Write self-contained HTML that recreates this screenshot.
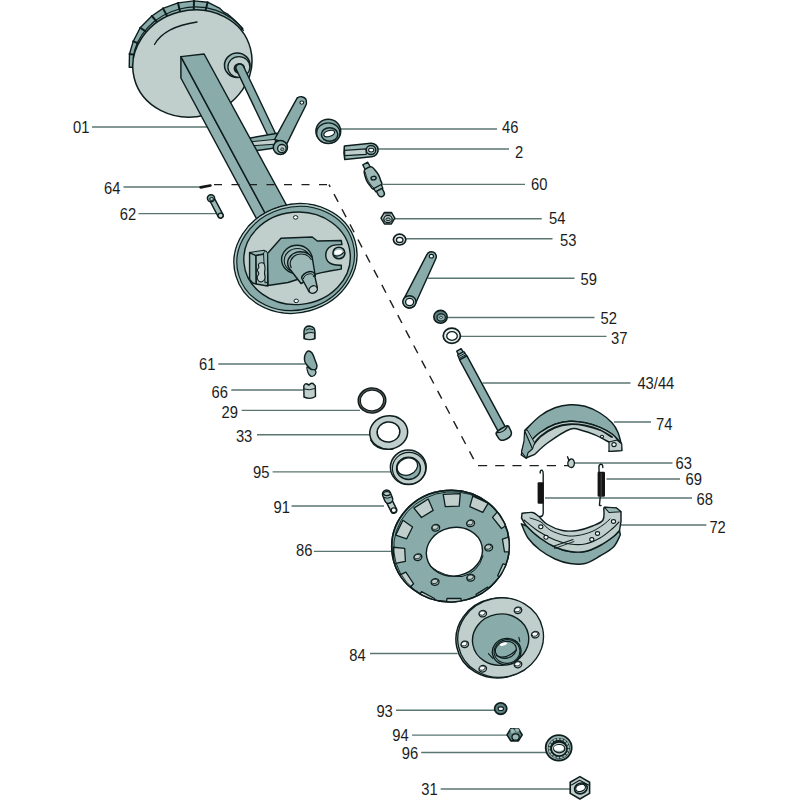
<!DOCTYPE html>
<html><head><meta charset="utf-8"><style>
html,body{margin:0;padding:0;background:#fff;}
svg{display:block;}
</style></head><body>
<svg width="800" height="800" viewBox="0 0 800 800">
<rect width="800" height="800" fill="#fff"/>
<g stroke="#5a7671" stroke-width="1.35" fill="none">
<line x1="92" y1="127" x2="207" y2="127"/>
<line x1="123.5" y1="187" x2="200" y2="187"/>
<line x1="138.5" y1="213.6" x2="216" y2="213.6"/>
<line x1="218.3" y1="364" x2="305" y2="364"/>
<line x1="231.3" y1="390" x2="303.5" y2="390"/>
<line x1="241.7" y1="410.3" x2="360" y2="410.3"/>
<line x1="257" y1="434.7" x2="370" y2="434.7"/>
<line x1="272.6" y1="471.8" x2="390.6" y2="471.8"/>
<line x1="291.5" y1="506" x2="384" y2="506"/>
<line x1="313.8" y1="551.4" x2="391" y2="551.4"/>
<line x1="370" y1="653.5" x2="457.6" y2="653.5"/>
<line x1="396" y1="710.2" x2="495.3" y2="710.2"/>
<line x1="412" y1="735.1" x2="507.4" y2="735.1"/>
<line x1="421.2" y1="752.5" x2="548" y2="752.5"/>
<line x1="440.7" y1="789" x2="570.7" y2="789"/>
<line x1="341" y1="129" x2="497" y2="129"/>
<line x1="378.75" y1="149" x2="509" y2="149"/>
<line x1="382.5" y1="184.4" x2="525" y2="184.4"/>
<line x1="394.75" y1="218.75" x2="541.75" y2="218.75"/>
<line x1="406" y1="238.75" x2="552.5" y2="238.75"/>
<line x1="427.5" y1="278.25" x2="574.5" y2="278.25"/>
<line x1="446.25" y1="317.5" x2="594.5" y2="317.5"/>
<line x1="460.5" y1="336.4" x2="606.5" y2="336.4"/>
<line x1="482.5" y1="383" x2="630.5" y2="383"/>
<line x1="614" y1="422" x2="651" y2="422"/>
<line x1="573.5" y1="463" x2="672.5" y2="463"/>
<line x1="606.5" y1="479" x2="680" y2="479"/>
<line x1="545" y1="498" x2="692" y2="498"/>
<line x1="620" y1="525" x2="706.4" y2="525"/>
</g>
<path d="M132.90,67.30 L129.20,67.30 L129.50,54.00 L133.20,41.40 L140.20,27.70 L151.80,16.00 L163.00,8.40 L178.00,2.90 L194.00,0.90 L207.60,2.20 L219.40,8.10 L223.80,12.20 L228.10,14.40 L235.00,20.60 L242.80,28.60 L192.00,63.00 Z" fill="#89abaa" stroke="#0e1e1e" stroke-width="1.4" stroke-linejoin="round" />
<path d="M129.50,54.00 L134.26,54.72" fill="none" stroke="#0e1e1e" stroke-width="2.0" stroke-linecap="round" stroke-linejoin="round"/>
<path d="M133.20,41.40 L138.52,43.39" fill="none" stroke="#0e1e1e" stroke-width="2.0" stroke-linecap="round" stroke-linejoin="round"/>
<path d="M140.20,27.70 L146.34,31.91" fill="none" stroke="#0e1e1e" stroke-width="2.0" stroke-linecap="round" stroke-linejoin="round"/>
<path d="M151.80,16.00 L157.10,22.20" fill="none" stroke="#0e1e1e" stroke-width="2.0" stroke-linecap="round" stroke-linejoin="round"/>
<path d="M163.00,8.40 L167.21,16.30" fill="none" stroke="#0e1e1e" stroke-width="2.0" stroke-linecap="round" stroke-linejoin="round"/>
<path d="M178.00,2.90 L180.10,11.77" fill="none" stroke="#0e1e1e" stroke-width="2.0" stroke-linecap="round" stroke-linejoin="round"/>
<path d="M194.00,0.90 L193.76,9.93" fill="none" stroke="#0e1e1e" stroke-width="2.0" stroke-linecap="round" stroke-linejoin="round"/>
<path d="M207.60,2.20 L205.51,10.62" fill="none" stroke="#0e1e1e" stroke-width="2.0" stroke-linecap="round" stroke-linejoin="round"/>
<path d="M133.9,60 A59.96,53.12 -14.3 0 1 244.5,32.5" fill="none" stroke="#0e1e1e" stroke-width="1.2" transform="translate(-0.8,-1.7)"/>
<ellipse cx="192.36" cy="63.46" rx="59.96" ry="53.12" fill="#c0cfcb" stroke="#0e1e1e" stroke-width="1.5" transform="rotate(-14.3 192.36 63.46)" />
<path d="M154.5,44.5 Q164.3,26.8 197,22" fill="none" stroke="#0e1e1e" stroke-width="1.3" stroke-linecap="round" stroke-linejoin="round"/>
<ellipse cx="237.25" cy="65.25" rx="12.75" ry="12.25" fill="#9db9b7" stroke="#0e1e1e" stroke-width="1.5" />
<ellipse cx="238.90" cy="67.00" rx="11.0" ry="10.4" fill="#c0cfcb" stroke="#0e1e1e" stroke-width="1.3" />
<ellipse cx="239.40" cy="68.40" rx="5.8" ry="5.5" fill="#142222" stroke="#0e1e1e" stroke-width="0" />
<path d="M236.38,69.58 A3.9,3.9 0 0 1 243.42,66.22 L278.02,138.82 L270.98,142.18 Z" fill="#89abaa" stroke="#0e1e1e" stroke-width="1.4" stroke-linejoin="round" />
<path d="M249.00,138.20 L277.50,133.30 L275.00,148.00 L255.50,150.80 Z" fill="#89abaa" stroke="#0e1e1e" stroke-width="1.45" stroke-linejoin="round" />
<path d="M251.50,141.70 L275.50,139.30 L275.00,144.20 L253.00,145.70 Z" fill="#c0cfcb" stroke="#0e1e1e" stroke-width="1.0" stroke-linejoin="round" />
<path d="M274.50,139.50 C276.25,136.25 281.42,126.55 285.00,120.00 C288.58,113.45 293.87,103.93 296.00,100.20 C298.13,96.47 296.87,98.18 297.80,97.60 C298.73,97.02 300.30,96.50 301.60,96.70 C302.90,96.90 304.80,97.82 305.60,98.80 C306.40,99.78 306.40,101.43 306.40,102.60 C306.40,103.77 307.25,102.23 305.60,105.80 C303.95,109.37 299.60,117.72 296.50,124.00 C293.40,130.28 288.58,140.25 287.00,143.50 Z" fill="#89abaa" stroke="#0e1e1e" stroke-width="1.45" stroke-linejoin="round" />
<ellipse cx="301.80" cy="102.60" rx="1.9" ry="1.6" fill="#ffffff" stroke="#0e1e1e" stroke-width="1.1" />
<ellipse cx="280.40" cy="147.40" rx="7.1" ry="7.0" fill="#89abaa" stroke="#0e1e1e" stroke-width="1.5" />
<ellipse cx="281.90" cy="148.60" rx="4.3" ry="4.1" fill="#c0cfcb" stroke="#0e1e1e" stroke-width="1.3" />
<ellipse cx="282.30" cy="149.30" rx="1.6" ry="1.5" fill="#89abaa" stroke="#0e1e1e" stroke-width="0.8" />
<path d="M180.90,56.60 L180.90,78.00 L268.00,240.00 L279.50,240.00 Z" fill="#8fb0af" stroke="#0e1e1e" stroke-width="1.45" stroke-linejoin="round" />
<path d="M180.90,56.60 L204.10,54.00 L305.50,240.00 L279.50,240.00 Z" fill="#89abaa" stroke="#0e1e1e" stroke-width="1.45" stroke-linejoin="round" />
<path d="M214,184.6 L329,184.6" fill="none" stroke="#1e1e1e" stroke-width="1.4" stroke-dasharray="8 9.5"/>
<path d="M329,184.6 L477,465.6" fill="none" stroke="#1e1e1e" stroke-width="1.4" stroke-dasharray="8.8 8.3" stroke-dashoffset="6.3"/>
<path d="M478,465.6 L570,465.6" fill="none" stroke="#1e1e1e" stroke-width="1.4" stroke-dasharray="9.2 8"/>
<ellipse cx="295.47" cy="258.48" rx="62.0" ry="54.1" fill="#89abaa" stroke="#0e1e1e" stroke-width="1.5" transform="rotate(-16 295.47 258.48)" />
<ellipse cx="295.47" cy="258.48" rx="60.7" ry="52.800000000000004" fill="none" stroke="#b3cac8" stroke-width="1.2" transform="rotate(-16 295.47 258.48)"/>
<ellipse cx="295.67" cy="258.48" rx="59.3" ry="51.4" fill="none" stroke="#0e1e1e" stroke-width="1.1" transform="rotate(-16 295.67 258.48)" />
<ellipse cx="297.07" cy="258.32" rx="53.3" ry="46.2" fill="#c0cfcb" stroke="#0e1e1e" stroke-width="1.4" transform="rotate(-5 297.07 258.32)" />
<ellipse cx="295.60" cy="217.40" rx="2.2" ry="1.8" fill="#ffffff" stroke="#0e1e1e" stroke-width="1.0" />
<ellipse cx="296.20" cy="300.90" rx="2.2" ry="1.8" fill="#ffffff" stroke="#0e1e1e" stroke-width="1.0" />
<path d="M267.50,253.50 L281.00,238.20 L312.25,237.00 L317.30,241.00 L341.30,240.50 L341.90,244.60 C340.92,244.65 337.80,244.63 336.00,244.90 C334.20,245.17 332.57,245.42 331.10,246.20 C329.63,246.98 328.08,248.22 327.20,249.60 C326.32,250.98 325.90,252.90 325.80,254.50 C325.70,256.10 325.97,257.80 326.60,259.20 C327.23,260.60 328.28,261.97 329.60,262.90 C330.92,263.83 332.55,264.40 334.50,264.80 C336.45,265.20 340.17,265.22 341.30,265.30 L341.30,269.10 L331.10,270.70 L320.40,272.90 L303.50,277.50 L288.00,282.50 L268.00,285.50 Z" fill="#89abaa" stroke="#0e1e1e" stroke-width="1.45" stroke-linejoin="round" />
<ellipse cx="338.90" cy="253.00" rx="6.0" ry="5.8" fill="#9db9b7" stroke="#0e1e1e" stroke-width="1.5" />
<ellipse cx="338.30" cy="252.20" rx="4.0" ry="2.3" fill="#ffffff" stroke="#0e1e1e" stroke-width="0" transform="rotate(-15 338.3 252.2)" />
<path d="M334.2,255.6 Q339,257.5 343.6,252.6" fill="none" stroke="#0e1e1e" stroke-width="1.1" stroke-linecap="round" stroke-linejoin="round"/>
<path d="M249.60,252.50 L256.00,255.50 L256.30,284.00 L252.80,283.00 L249.60,279.50 Z" fill="#9db9b7" stroke="#0e1e1e" stroke-width="1.45" stroke-linejoin="round" />
<path d="M249.60,252.50 L264.00,250.20 L267.00,253.50 L256.00,255.50 Z" fill="#9db9b7" stroke="#0e1e1e" stroke-width="1.1" stroke-linejoin="round" />
<path d="M256.00,255.50 L267.00,253.50 L267.60,286.00 L256.30,284.00 Z" fill="#a6bfbd" stroke="#0e1e1e" stroke-width="1.45" stroke-linejoin="round" />
<path d="M263.50,252.80 L266.00,250.60 L267.50,253.50 L267.60,282.00 L265.00,283.00 Z" fill="#9db9b7" stroke="#0e1e1e" stroke-width="1.0" stroke-linejoin="round" />
<path d="M258.50,264.30 C258.95,263.52 260.55,262.85 261.50,262.80 C262.45,262.75 263.62,263.05 264.20,264.00 C264.78,264.95 264.95,267.00 265.00,268.50 C265.05,270.00 264.50,271.42 264.50,273.00 C264.50,274.58 265.33,276.58 265.00,278.00 C264.67,279.42 263.58,281.03 262.50,281.50 C261.42,281.97 259.38,281.55 258.50,280.80 C257.62,280.05 257.15,278.22 257.20,277.00 C257.25,275.78 258.78,274.67 258.80,273.50 C258.82,272.33 257.30,271.00 257.30,270.00 C257.30,269.00 258.60,268.45 258.80,267.50 C259.00,266.55 258.05,265.08 258.50,264.30 Z" fill="#c0cfcb" stroke="#0e1e1e" stroke-width="1.1" stroke-linejoin="round" />
<ellipse cx="297.00" cy="259.50" rx="15.4" ry="14.2" fill="#9db9b7" stroke="#0e1e1e" stroke-width="1.4" />
<ellipse cx="297.50" cy="260.50" rx="13.3" ry="12.0" fill="#9db9b7" stroke="#0e1e1e" stroke-width="1.1" />
<path d="M289,268 A11.7,10.2 0 0 1 312.3,258 L315.3,276 L301,283.5 Z" fill="#9db9b7" stroke="#0e1e1e" stroke-width="1.45" stroke-linejoin="round" />
<path d="M291.2,267.6 A9.8,8.6 0 0 1 311.2,259.6" fill="none" stroke="#0e1e1e" stroke-width="1.1" stroke-linecap="round" stroke-linejoin="round"/>
<path d="M301.6,278 A6.5,4.2 -28 0 1 314.6,275.4 L317.3,287.3 L309.2,292 Z" fill="#9db9b7" stroke="#0e1e1e" stroke-width="1.45" stroke-linejoin="round" />
<path d="M303.4,278.6 A5.2,3.2 -28 0 1 313.5,276.8" fill="none" stroke="#0e1e1e" stroke-width="1.0" stroke-linecap="round" stroke-linejoin="round"/>
<ellipse cx="313.20" cy="289.60" rx="4.3" ry="3.6" fill="#c0cfcb" stroke="#0e1e1e" stroke-width="1.4" transform="rotate(-30 313.2 289.6)" />
<ellipse cx="328.30" cy="131.30" rx="12.4" ry="12.1" fill="#89abaa" stroke="#0e1e1e" stroke-width="1.5" />
<ellipse cx="328.30" cy="133.10" rx="11.6" ry="10.3" fill="#93b3b1" stroke="#0e1e1e" stroke-width="1.3" />
<ellipse cx="329.60" cy="134.50" rx="8.2" ry="6.8" fill="#89abaa" stroke="#0e1e1e" stroke-width="1.5" />
<ellipse cx="329.20" cy="133.50" rx="5.6" ry="2.9" fill="#ffffff" stroke="#0e1e1e" stroke-width="1.2" transform="rotate(-18 329.2 133.5)" />
<path d="M344.4,146.0 L370.8,143.2 A6.9,6.8 0 0 1 371.6,156.8 L344.8,159.5 Q343.4,153 344.4,146.0 Z" fill="#9db9b7" stroke="#0e1e1e" stroke-width="1.6" stroke-linejoin="round" />
<path d="M344.60,150.30 L366.20,148.90 L366.20,154.30 L344.80,155.60 Z" fill="#c0cfcb" stroke="#0e1e1e" stroke-width="1.2" stroke-linejoin="round" />
<ellipse cx="371.00" cy="150.00" rx="4.8" ry="4.5" fill="#9db9b7" stroke="#0e1e1e" stroke-width="1.4" />
<ellipse cx="371.20" cy="150.10" rx="2.6" ry="1.9" fill="#ffffff" stroke="#0e1e1e" stroke-width="1.1" />
<path d="M367.74,162.24 L370.50,167.23 L365.38,169.95 L362.79,164.87 Z" fill="#9db9b7" stroke="#0e1e1e" stroke-width="1.4" stroke-linejoin="round" />
<path d="M371.03,166.72 C372.80,166.72 373.87,168.80 375.14,170.20 C376.41,171.60 377.72,173.36 378.66,175.12 C379.60,176.89 380.28,179.17 380.77,180.80 C381.26,182.42 382.78,183.50 381.59,184.89 C380.40,186.28 375.49,188.89 373.64,189.12 C371.80,189.34 371.64,187.54 370.53,186.24 C369.42,184.94 367.95,183.09 367.01,181.32 C366.07,179.55 365.32,177.50 364.90,175.65 C364.48,173.79 363.47,171.69 364.49,170.20 C365.51,168.71 369.25,166.72 371.03,166.72 Z" fill="#9db9b7" stroke="#0e1e1e" stroke-width="1.5" stroke-linejoin="round" />
<path d="M365.25,172.06 C365.47,172.89 365.98,175.45 366.54,177.04 C367.10,178.63 367.78,180.15 368.62,181.59 C369.47,183.03 370.67,184.56 371.59,185.68 C372.51,186.80 373.70,187.86 374.12,188.30" fill="none" stroke="#0e1e1e" stroke-width="0.9" stroke-linecap="round" stroke-linejoin="round"/>
<path d="M381.27,184.50 L382.88,188.17 L375.82,191.92 L373.59,188.58 Z" fill="#9db9b7" stroke="#0e1e1e" stroke-width="1.3" stroke-linejoin="round" />
<path d="M382.08,188.37 L384.05,192.08 A3.2,3.2 0 0 1 378.40,195.08 L376.43,191.37 Z" fill="#9db9b7" stroke="#0e1e1e" stroke-width="1.4" stroke-linejoin="round" />
<ellipse cx="373.59" cy="178.16" rx="2.6" ry="1.8" fill="#9db9b7" stroke="#0e1e1e" stroke-width="1.4" transform="rotate(-10 373.5938602698395 178.15730998220758)" />
<path d="M394.80,218.20 L391.35,223.94 L384.45,223.94 L381.00,218.20 L384.45,212.46 L391.35,212.46 Z" fill="#c0cfcb" stroke="#0e1e1e" stroke-width="1.5" stroke-linejoin="round" />
<path d="M384.9,213.9 L391.0,213.9" fill="none" stroke="#0e1e1e" stroke-width="0.9" stroke-linecap="round" stroke-linejoin="round"/>
<ellipse cx="388.00" cy="219.00" rx="4.2" ry="3.7" fill="#c0cfcb" stroke="#0e1e1e" stroke-width="1.3" />
<ellipse cx="388.10" cy="219.30" rx="2.2" ry="1.4" fill="#9db9b7" stroke="#0e1e1e" stroke-width="1.0" />
<ellipse cx="399.60" cy="239.60" rx="6.2" ry="5.4" fill="#e2e9e7" stroke="#0e1e1e" stroke-width="1.7" />
<ellipse cx="399.70" cy="239.90" rx="3.3" ry="2.6" fill="#ffffff" stroke="#0e1e1e" stroke-width="1.3" />
<path d="M415.06,304.56 L435.81,258.74 A4.9,4.9 0 0 0 426.99,254.46 L403.74,299.04 A6.3,6.3 0 0 0 415.06,304.56 Z" fill="#89abaa" stroke="#0e1e1e" stroke-width="1.45" stroke-linejoin="round" />
<ellipse cx="431.40" cy="256.20" rx="2.1" ry="1.8" fill="#ffffff" stroke="#0e1e1e" stroke-width="1.2" />
<ellipse cx="409.40" cy="301.80" rx="6.6" ry="6.1" fill="#9db9b7" stroke="#0e1e1e" stroke-width="1.5" />
<ellipse cx="409.60" cy="302.00" rx="4.0" ry="3.7" fill="#ffffff" stroke="#0e1e1e" stroke-width="1.3" />
<ellipse cx="440.50" cy="316.80" rx="6.7" ry="6.4" fill="#5f8180" stroke="#0e1e1e" stroke-width="1.6" />
<ellipse cx="441.20" cy="317.40" rx="4.2" ry="3.6" fill="#89abaa" stroke="#0e1e1e" stroke-width="1.2" />
<ellipse cx="441.00" cy="317.30" rx="1.6" ry="1.0" fill="#ffffff" stroke="#0e1e1e" stroke-width="0.8" />
<ellipse cx="451.80" cy="335.80" rx="8.6" ry="7.6" fill="#e9efed" stroke="#0e1e1e" stroke-width="1.7" />
<ellipse cx="452.00" cy="336.00" rx="5.3" ry="4.3" fill="#ffffff" stroke="#0e1e1e" stroke-width="1.3" />
<path d="M461.12,348.71 L463.20,352.13 L458.45,354.70 L456.72,351.09 Z" fill="#9db9b7" stroke="#0e1e1e" stroke-width="1.4" stroke-linejoin="round" />
<path d="M463.89,351.53 L466.86,356.17 L459.82,359.98 L457.56,354.95 Z" fill="#9db9b7" stroke="#0e1e1e" stroke-width="1.3" stroke-linejoin="round" />
<path d="M464.93,353.24 L458.42,356.76" fill="none" stroke="#0e1e1e" stroke-width="1.0" stroke-linecap="round" stroke-linejoin="round"/>
<path d="M465.96,354.73 L459.10,358.44" fill="none" stroke="#0e1e1e" stroke-width="1.0" stroke-linecap="round" stroke-linejoin="round"/>
<path d="M466.94,355.90 L505.56,427.33 L498.17,431.33 L459.55,359.90 Z" fill="#89abaa" stroke="#0e1e1e" stroke-width="1.45" stroke-linejoin="round" />
<path d="M506.99,425.76 C509.20,425.23 509.12,427.74 509.87,428.98 C510.61,430.23 511.54,431.87 511.48,433.23 C511.42,434.59 510.71,436.01 509.50,437.14 C508.29,438.27 505.77,439.53 504.22,439.99 C502.67,440.45 501.28,440.44 500.19,439.90 C499.10,439.35 498.28,438.00 497.68,436.71 C497.07,435.43 495.04,434.01 496.59,432.18 C498.14,430.36 504.78,426.30 506.99,425.76 Z" fill="#9db9b7" stroke="#0e1e1e" stroke-width="1.5" stroke-linejoin="round" />
<path d="M507.50,426.28 C507.01,426.93 505.73,429.14 504.58,430.14 C503.43,431.14 501.91,431.86 500.62,432.28 C499.33,432.69 497.46,432.56 496.83,432.62" fill="none" stroke="#0e1e1e" stroke-width="1.2" stroke-linecap="round" stroke-linejoin="round"/>
<path d="M200.6,187.3 L210.4,185.5" fill="none" stroke="#151515" stroke-width="2.7" stroke-linecap="round" stroke-linejoin="round"/>
<path d="M210.50,202.01 L218.30,216.81 A2.6,2.6 0 0 0 222.90,214.39 L215.10,199.59 A2.6,2.6 0 0 0 210.50,202.01 Z" fill="#9db9b7" stroke="#0e1e1e" stroke-width="1.45" stroke-linejoin="round" />
<ellipse cx="220.60" cy="215.60" rx="2.5" ry="2.4" fill="#c0cfcb" stroke="#0e1e1e" stroke-width="1.2" />
<ellipse cx="211.00" cy="198.20" rx="3.6" ry="3.4" fill="#89abaa" stroke="#0e1e1e" stroke-width="1.5" />
<ellipse cx="211.60" cy="199.00" rx="1.9" ry="1.5" fill="#c0cfcb" stroke="#0e1e1e" stroke-width="1.0" />
<path d="M304,338.5 L304,331 Q304.5,326 309.5,326 Q315,326.5 315,332 L315,338.5 Q310,340.5 304,338.5 Z" fill="#89abaa" stroke="#0e1e1e" stroke-width="1.45" stroke-linejoin="round" />
<path d="M304.5,334.5 Q309,331.5 314.5,333 L314.5,338.5 Q310,340.5 304.5,338.5 Z" fill="#c0cfcb" stroke="#0e1e1e" stroke-width="1.1" stroke-linejoin="round" />
<path d="M306,330 Q309,327.5 313,329.5" fill="none" stroke="#0e1e1e" stroke-width="0.9" stroke-linecap="round" stroke-linejoin="round"/>
<path d="M305.00,355.00 C305.58,353.50 306.83,351.33 308.00,351.00 C309.17,350.67 310.83,351.50 312.00,353.00 C313.17,354.50 314.17,357.83 315.00,360.00 C315.83,362.17 317.00,364.33 317.00,366.00 C317.00,367.67 316.00,369.50 315.00,370.00 C314.00,370.50 312.50,370.00 311.00,369.00 C309.50,368.00 307.08,365.50 306.00,364.00 C304.92,362.50 304.67,361.50 304.50,360.00 C304.33,358.50 304.42,356.50 305.00,355.00 Z" fill="#89abaa" stroke="#0e1e1e" stroke-width="1.45" stroke-linejoin="round" />
<path d="M307.00,367.00 C307.58,366.75 309.67,369.00 311.00,369.50 C312.33,370.00 314.25,369.25 315.00,370.00 C315.75,370.75 316.00,372.92 315.50,374.00 C315.00,375.08 313.08,376.42 312.00,376.50 C310.92,376.58 309.75,375.42 309.00,374.50 C308.25,373.58 307.83,372.25 307.50,371.00 C307.17,369.75 306.42,367.25 307.00,367.00 Z" fill="#9db9b7" stroke="#0e1e1e" stroke-width="1.2" stroke-linejoin="round" />
<path d="M303.8,386 Q305,383 307,384 L309,385 Q311,382.5 313,383.5 L315.3,386 L315.5,396.5 Q310,400 304,397 Z" fill="#c0cfcb" stroke="#0e1e1e" stroke-width="1.45" stroke-linejoin="round" />
<path d="M304,389 Q309,391 315.3,388.5" fill="none" stroke="#0e1e1e" stroke-width="1.0" stroke-linecap="round" stroke-linejoin="round"/>
<ellipse cx="372.00" cy="400.50" rx="12.8" ry="11.6" fill="none" stroke="#141a1a" stroke-width="3.5" transform="rotate(-5 372.0 400.5)" />
<ellipse cx="372.00" cy="400.50" rx="12.7" ry="11.5" fill="none" stroke="#74898a" stroke-width="0.6" transform="rotate(-5 372.0 400.5)" />
<ellipse cx="388.70" cy="432.50" rx="19" ry="16.6" fill="#c0cfcb" stroke="#0e1e1e" stroke-width="1.5" transform="rotate(-8 388.7 432.5)" />
<ellipse cx="388.50" cy="432.00" rx="11.4" ry="10" fill="#ffffff" stroke="#0e1e1e" stroke-width="1.5" transform="rotate(-8 388.5 432)" />
<path d="M370.5,440 Q376,451 393,449.2" fill="none" stroke="#0e1e1e" stroke-width="1.1" stroke-linecap="round" stroke-linejoin="round"/>
<ellipse cx="408.30" cy="467.30" rx="17.9" ry="17.2" fill="#c0cfcb" stroke="#0e1e1e" stroke-width="1.5" />
<ellipse cx="409.00" cy="468.30" rx="16.6" ry="15.9" fill="none" stroke="#0e1e1e" stroke-width="1.1" />
<ellipse cx="408.50" cy="468.40" rx="11.9" ry="11.1" fill="#89abaa" stroke="#0e1e1e" stroke-width="1.5" />
<ellipse cx="407.30" cy="466.60" rx="10.6" ry="8.4" fill="#ffffff" stroke="#0e1e1e" stroke-width="1.3" transform="rotate(-22 407.3 466.6)" />
<path d="M386.22,501.85 L391.12,511.55 A3.0,3.0 0 0 0 396.48,508.85 L391.58,499.15 A3.0,3.0 0 0 0 386.22,501.85 Z" fill="#c0cfcb" stroke="#0e1e1e" stroke-width="1.5" stroke-linejoin="round" />
<ellipse cx="393.80" cy="510.30" rx="2.6" ry="2.4" fill="#ffffff" stroke="#0e1e1e" stroke-width="1.3" />
<path d="M382.79,495.72 L384.79,500.72 A4.1,4.1 0 0 0 392.41,497.68 L390.41,492.68 A4.1,4.1 0 0 0 382.79,495.72 Z" fill="#9db9b7" stroke="#0e1e1e" stroke-width="1.5" stroke-linejoin="round" />
<ellipse cx="386.90" cy="493.60" rx="3.4" ry="2.0" fill="#c0cfcb" stroke="#0e1e1e" stroke-width="1.2" />
<path d="M383.6,497.5 Q387.5,499.5 391.6,497" fill="none" stroke="#0e1e1e" stroke-width="1.0" stroke-linecap="round" stroke-linejoin="round"/>
<defs><clipPath id="dclip"><ellipse cx="450.5" cy="546.1" rx="58.8" ry="55.8" transform="rotate(-5 450.5 546.1)"/></clipPath></defs>
<ellipse cx="450.50" cy="546.10" rx="58.8" ry="55.8" fill="#89abaa" stroke="#0e1e1e" stroke-width="1.5" transform="rotate(-5 450.5 546.1)" />
<g clip-path="url(#dclip)">
<path d="M406.68,538.80 L395.69,535.15 L402.92,520.27 L412.57,527.07 Z" fill="#c0cfcb" stroke="#0e1e1e" stroke-width="1.3" stroke-linejoin="round"/>
<path d="M421.50,517.47 L413.91,508.08 L428.22,499.06 L433.13,510.36 Z" fill="#c0cfcb" stroke="#0e1e1e" stroke-width="1.3" stroke-linejoin="round"/>
<path d="M445.30,506.69 L443.19,494.41 L460.29,493.66 L459.21,506.11 Z" fill="#c0cfcb" stroke="#0e1e1e" stroke-width="1.3" stroke-linejoin="round"/>
<path d="M469.81,506.67 L472.79,496.07 L488.26,503.09 L482.77,512.37 Z" fill="#c0cfcb" stroke="#0e1e1e" stroke-width="1.3" stroke-linejoin="round"/>
<path d="M492.53,517.40 L498.21,510.90 L508.44,524.07 L501.43,528.51 Z" fill="#c0cfcb" stroke="#0e1e1e" stroke-width="1.3" stroke-linejoin="round"/>
<path d="M502.42,539.12 L513.44,535.54 L516.00,551.78 L504.50,551.91 Z" fill="#c0cfcb" stroke="#0e1e1e" stroke-width="1.3" stroke-linejoin="round"/>
<path d="M502.97,563.81 L514.12,566.87 L507.65,582.08 L497.71,575.79 Z" fill="#c0cfcb" stroke="#0e1e1e" stroke-width="1.3" stroke-linejoin="round"/>
<path d="M487.70,587.17 L495.33,596.52 L481.07,605.61 L476.10,594.34 Z" fill="#c0cfcb" stroke="#0e1e1e" stroke-width="1.3" stroke-linejoin="round"/>
<path d="M460.94,598.51 L462.42,610.91 L445.30,610.74 L447.02,598.38 Z" fill="#c0cfcb" stroke="#0e1e1e" stroke-width="1.3" stroke-linejoin="round"/>
<path d="M434.46,598.53 L431.46,607.10 L416.64,598.89 L421.56,591.61 Z" fill="#c0cfcb" stroke="#0e1e1e" stroke-width="1.3" stroke-linejoin="round"/>
<path d="M413.60,583.75 L407.05,589.93 L398.10,575.93 L405.90,572.05 Z" fill="#c0cfcb" stroke="#0e1e1e" stroke-width="1.3" stroke-linejoin="round"/>
<path d="M405.42,561.27 L394.13,563.66 L393.23,547.26 L404.69,548.35 Z" fill="#c0cfcb" stroke="#0e1e1e" stroke-width="1.3" stroke-linejoin="round"/>
</g>
<ellipse cx="450.50" cy="546.10" rx="58.8" ry="55.8" fill="none" stroke="#0e1e1e" stroke-width="1.5" transform="rotate(-5 450.5 546.1)" />
<ellipse cx="451.80" cy="547.20" rx="58.199999999999996" ry="55.3" fill="none" stroke="#0e1e1e" stroke-width="0.9" transform="rotate(-5 450.5 546.1)" clip-path="url(#dclip)"/>
<ellipse cx="435.70" cy="527.80" rx="4.0" ry="3.3" fill="#9db9b7" stroke="#0e1e1e" stroke-width="1.3" transform="rotate(-15 435.7 527.8)" />
<ellipse cx="435.20" cy="527.20" rx="3.1" ry="2.2" fill="#c0cfcb" stroke="#0e1e1e" stroke-width="0.8" transform="rotate(-15 435.2 527.1999999999999)" />
<ellipse cx="470.60" cy="523.30" rx="4.0" ry="3.3" fill="#9db9b7" stroke="#0e1e1e" stroke-width="1.3" transform="rotate(-15 470.6 523.3)" />
<ellipse cx="470.10" cy="522.70" rx="3.1" ry="2.2" fill="#c0cfcb" stroke="#0e1e1e" stroke-width="0.8" transform="rotate(-15 470.1 522.6999999999999)" />
<ellipse cx="488.70" cy="547.60" rx="4.0" ry="3.3" fill="#9db9b7" stroke="#0e1e1e" stroke-width="1.3" transform="rotate(-15 488.7 547.6)" />
<ellipse cx="488.20" cy="547.00" rx="3.1" ry="2.2" fill="#c0cfcb" stroke="#0e1e1e" stroke-width="0.8" transform="rotate(-15 488.2 547.0)" />
<ellipse cx="470.80" cy="577.80" rx="4.0" ry="3.3" fill="#9db9b7" stroke="#0e1e1e" stroke-width="1.3" transform="rotate(-15 470.8 577.8)" />
<ellipse cx="470.30" cy="577.20" rx="3.1" ry="2.2" fill="#c0cfcb" stroke="#0e1e1e" stroke-width="0.8" transform="rotate(-15 470.3 577.1999999999999)" />
<ellipse cx="435.10" cy="582.00" rx="4.0" ry="3.3" fill="#9db9b7" stroke="#0e1e1e" stroke-width="1.3" transform="rotate(-15 435.1 582.0)" />
<ellipse cx="434.60" cy="581.40" rx="3.1" ry="2.2" fill="#c0cfcb" stroke="#0e1e1e" stroke-width="0.8" transform="rotate(-15 434.6 581.4)" />
<ellipse cx="417.90" cy="557.20" rx="4.0" ry="3.3" fill="#9db9b7" stroke="#0e1e1e" stroke-width="1.3" transform="rotate(-15 417.9 557.2)" />
<ellipse cx="417.40" cy="556.60" rx="3.1" ry="2.2" fill="#c0cfcb" stroke="#0e1e1e" stroke-width="0.8" transform="rotate(-15 417.4 556.6)" />
<ellipse cx="454.40" cy="551.70" rx="28.2" ry="24.2" fill="#ffffff" stroke="#0e1e1e" stroke-width="1.4" transform="rotate(-12 454.4 551.7)" />
<path d="M430,566 Q445,578 462,576.5 Q478,573 483,556" fill="none" stroke="#0e1e1e" stroke-width="1.0" stroke-linecap="round" stroke-linejoin="round"/>
<ellipse cx="499.00" cy="638.00" rx="43.2" ry="39.8" fill="#c0cfcb" stroke="#0e1e1e" stroke-width="1.5" transform="rotate(-12 499.0 638.0)" />
<ellipse cx="500.60" cy="637.60" rx="43.0" ry="39.6" fill="#c0cfcb" stroke="#0e1e1e" stroke-width="1.3" transform="rotate(-12 500.6 637.6)" />
<ellipse cx="500.60" cy="639.60" rx="28.2" ry="25.6" fill="#89abaa" stroke="#0e1e1e" stroke-width="1.4" transform="rotate(-10 500.6 639.6)" />
<ellipse cx="482.75" cy="613.70" rx="3.8" ry="3.2" fill="#c0cfcb" stroke="#0e1e1e" stroke-width="1.3" transform="rotate(-15 482.75 613.7)" />
<ellipse cx="482.25" cy="613.10" rx="2.9" ry="2.1" fill="#ffffff" stroke="#0e1e1e" stroke-width="0.8" transform="rotate(-15 482.25 613.1)" />
<ellipse cx="518.00" cy="610.30" rx="3.8" ry="3.2" fill="#c0cfcb" stroke="#0e1e1e" stroke-width="1.3" transform="rotate(-15 518 610.3)" />
<ellipse cx="517.50" cy="609.70" rx="2.9" ry="2.1" fill="#ffffff" stroke="#0e1e1e" stroke-width="0.8" transform="rotate(-15 517.5 609.6999999999999)" />
<ellipse cx="535.30" cy="634.70" rx="3.8" ry="3.2" fill="#c0cfcb" stroke="#0e1e1e" stroke-width="1.3" transform="rotate(-15 535.3 634.7)" />
<ellipse cx="534.80" cy="634.10" rx="2.9" ry="2.1" fill="#ffffff" stroke="#0e1e1e" stroke-width="0.8" transform="rotate(-15 534.8 634.1)" />
<ellipse cx="518.00" cy="664.50" rx="3.8" ry="3.2" fill="#c0cfcb" stroke="#0e1e1e" stroke-width="1.3" transform="rotate(-15 518 664.5)" />
<ellipse cx="517.50" cy="663.90" rx="2.9" ry="2.1" fill="#ffffff" stroke="#0e1e1e" stroke-width="0.8" transform="rotate(-15 517.5 663.9)" />
<ellipse cx="482.75" cy="668.75" rx="3.8" ry="3.2" fill="#c0cfcb" stroke="#0e1e1e" stroke-width="1.3" transform="rotate(-15 482.75 668.75)" />
<ellipse cx="482.25" cy="668.15" rx="2.9" ry="2.1" fill="#ffffff" stroke="#0e1e1e" stroke-width="0.8" transform="rotate(-15 482.25 668.15)" />
<ellipse cx="464.75" cy="644.30" rx="3.8" ry="3.2" fill="#c0cfcb" stroke="#0e1e1e" stroke-width="1.3" transform="rotate(-15 464.75 644.3)" />
<ellipse cx="464.25" cy="643.70" rx="2.9" ry="2.1" fill="#ffffff" stroke="#0e1e1e" stroke-width="0.8" transform="rotate(-15 464.25 643.6999999999999)" />
<ellipse cx="506.70" cy="651.60" rx="14.35" ry="13.2" fill="#89abaa" stroke="#0e1e1e" stroke-width="1.4" transform="rotate(-10 506.7 651.6)" />
<ellipse cx="507.00" cy="651.50" rx="12.9" ry="11.8" fill="none" stroke="#0e1e1e" stroke-width="1.1" transform="rotate(-10 507.0 651.5)" />
<ellipse cx="505.80" cy="649.80" rx="10.6" ry="8.3" fill="none" stroke="#0e1e1e" stroke-width="1.2" transform="rotate(-15 505.8 649.8)" />
<path d="M496.2,655.5 Q505,660.5 516.5,650" fill="none" stroke="#0e1e1e" stroke-width="1.2" stroke-linecap="round" stroke-linejoin="round"/>
<ellipse cx="503.40" cy="644.20" rx="3.7" ry="1.4" fill="#ffffff" stroke="#0e1e1e" stroke-width="0" transform="rotate(-18 503.4 644.2)" />
<path d="M488.4,653.6 L492.8,658.3" fill="none" stroke="#0e1e1e" stroke-width="1.1" stroke-linecap="round" stroke-linejoin="round"/>
<path d="M518.9,637.4 L519.8,641.4" fill="none" stroke="#0e1e1e" stroke-width="1.1" stroke-linecap="round" stroke-linejoin="round"/>
<ellipse cx="500.70" cy="708.60" rx="6.1" ry="5.7" fill="#5f8180" stroke="#0e1e1e" stroke-width="1.7" />
<ellipse cx="500.80" cy="708.70" rx="2.7" ry="1.8" fill="#ffffff" stroke="#0e1e1e" stroke-width="1.1" />
<path d="M522.20,734.80 L518.40,740.86 L510.80,740.86 L507.00,734.80 L510.80,728.74 L518.40,728.74 Z" fill="#5f8180" stroke="#0e1e1e" stroke-width="1.6" stroke-linejoin="round" />
<path d="M510.20,729.30 L513.00,728.50 L515.20,732.00 L511.50,733.50 Z" fill="#9db9b7" stroke="#0e1e1e" stroke-width="0" stroke-linejoin="round" />
<path d="M514.50,728.40 L518.40,728.40 L519.50,731.20 L516.50,731.80 Z" fill="#9db9b7" stroke="#0e1e1e" stroke-width="0" stroke-linejoin="round" />
<ellipse cx="515.60" cy="737.00" rx="3.6" ry="3.2" fill="#9db9b7" stroke="#0e1e1e" stroke-width="1.3" />
<ellipse cx="558.70" cy="747.80" rx="13" ry="12.7" fill="#9db9b7" stroke="#0e1e1e" stroke-width="1.8" />
<ellipse cx="558.90" cy="748.30" rx="11.0" ry="10.6" fill="#1a2626" stroke="#0e1e1e" stroke-width="0" />
<ellipse cx="568.31" cy="750.15" rx="1.5" ry="1.0" fill="#9db9b7" transform="rotate(101.5 568.31 750.15)"/>
<ellipse cx="566.98" cy="753.32" rx="1.5" ry="1.0" fill="#9db9b7" transform="rotate(122.6 566.98 753.32)"/>
<ellipse cx="564.57" cy="755.81" rx="1.5" ry="1.0" fill="#9db9b7" transform="rotate(143.8 564.57 755.81)"/>
<ellipse cx="561.39" cy="757.28" rx="1.5" ry="1.0" fill="#9db9b7" transform="rotate(165.0 561.39 757.28)"/>
<ellipse cx="557.87" cy="757.55" rx="1.5" ry="1.0" fill="#9db9b7" transform="rotate(186.2 557.87 757.55)"/>
<ellipse cx="554.49" cy="756.56" rx="1.5" ry="1.0" fill="#9db9b7" transform="rotate(207.3 554.49 756.56)"/>
<ellipse cx="551.71" cy="754.46" rx="1.5" ry="1.0" fill="#9db9b7" transform="rotate(228.5 551.71 754.46)"/>
<ellipse cx="549.90" cy="751.53" rx="1.5" ry="1.0" fill="#9db9b7" transform="rotate(249.7 549.90 751.53)"/>
<ellipse cx="549.30" cy="748.16" rx="1.5" ry="1.0" fill="#9db9b7" transform="rotate(270.9 549.30 748.16)"/>
<ellipse cx="550.00" cy="744.81" rx="1.5" ry="1.0" fill="#9db9b7" transform="rotate(292.0 550.00 744.81)"/>
<ellipse cx="551.90" cy="741.93" rx="1.5" ry="1.0" fill="#9db9b7" transform="rotate(313.2 551.90 741.93)"/>
<ellipse cx="554.75" cy="739.91" rx="1.5" ry="1.0" fill="#9db9b7" transform="rotate(334.4 554.75 739.91)"/>
<ellipse cx="558.16" cy="739.03" rx="1.5" ry="1.0" fill="#9db9b7" transform="rotate(355.6 558.16 739.03)"/>
<ellipse cx="561.67" cy="739.39" rx="1.5" ry="1.0" fill="#9db9b7" transform="rotate(376.8 561.67 739.39)"/>
<ellipse cx="564.80" cy="740.96" rx="1.5" ry="1.0" fill="#9db9b7" transform="rotate(397.9 564.80 740.96)"/>
<ellipse cx="567.14" cy="743.52" rx="1.5" ry="1.0" fill="#9db9b7" transform="rotate(419.1 567.14 743.52)"/>
<ellipse cx="568.36" cy="746.73" rx="1.5" ry="1.0" fill="#9db9b7" transform="rotate(440.3 568.36 746.73)"/>
<ellipse cx="559.10" cy="748.90" rx="7.8" ry="7.0" fill="#c0cfcb" stroke="#0e1e1e" stroke-width="1.5" />
<ellipse cx="559.30" cy="748.70" rx="5.6" ry="4.1" fill="#89abaa" stroke="#0e1e1e" stroke-width="1.3" />
<ellipse cx="558.90" cy="747.90" rx="5.0" ry="2.9" fill="#ffffff" stroke="#0e1e1e" stroke-width="0" />
<path d="M589.60,793.40 L579.90,799.00 L570.20,793.40 L570.20,782.20 L579.90,776.60 L589.60,782.20 Z" fill="#c0cfcb" stroke="#0e1e1e" stroke-width="1.6" stroke-linejoin="round" />
<path d="M571.5,785 L579.6,780.2 L588.5,785" fill="none" stroke="#0e1e1e" stroke-width="1.1" stroke-linecap="round" stroke-linejoin="round"/>
<ellipse cx="580.90" cy="788.40" rx="6.5" ry="5.2" fill="#c0cfcb" stroke="#0e1e1e" stroke-width="1.7" transform="rotate(-20 580.9 788.4)" />
<ellipse cx="580.60" cy="787.90" rx="5.0" ry="3.4" fill="#ffffff" stroke="#0e1e1e" stroke-width="1.2" transform="rotate(-20 580.6 787.9)" />
<path d="M525.00,430.30 C527.50,427.92 535.00,419.75 540.00,416.00 C545.00,412.25 550.00,409.67 555.00,407.80 C560.00,405.93 565.00,405.05 570.00,404.80 C575.00,404.55 580.00,404.93 585.00,406.30 C590.00,407.67 595.50,410.25 600.00,413.00 C604.50,415.75 609.00,419.55 612.00,422.80 C615.00,426.05 616.50,429.13 618.00,432.50 C619.50,435.87 620.50,441.25 621.00,443.00 L618,440 C617.00,439.00 615.00,436.12 612.00,434.00 C609.00,431.88 604.50,429.17 600.00,427.30 C595.50,425.43 590.00,423.80 585.00,422.80 C580.00,421.80 575.00,421.05 570.00,421.30 C565.00,421.55 560.00,422.43 555.00,424.30 C550.00,426.17 544.62,429.13 540.00,432.50 C535.38,435.87 529.42,442.50 527.30,444.50 Z" fill="#89abaa" stroke="#0e1e1e" stroke-width="1.45" stroke-linejoin="round" />
<path d="M527.30,444.50 C529.42,442.50 535.38,435.87 540.00,432.50 C544.62,429.13 550.00,426.17 555.00,424.30 C560.00,422.43 565.00,421.55 570.00,421.30 C575.00,421.05 580.00,421.80 585.00,422.80 C590.00,423.80 595.50,425.43 600.00,427.30 C604.50,429.17 609.00,431.88 612.00,434.00 C615.00,436.12 616.50,438.50 618.00,440.00 C619.50,441.50 620.50,442.50 621.00,443.00 L621.8,450.5 L609,451.3 L613.5,444.5 C612.25,443.83 609.08,442.12 606.00,440.50 C602.92,438.88 599.00,436.47 595.00,434.80 C591.00,433.13 586.17,431.42 582.00,430.50 C577.83,429.58 575.75,427.22 570.00,429.30 C564.25,431.38 553.37,438.83 547.50,443.00 C541.63,447.17 536.92,452.42 534.80,454.30 L525.8,458 L521.3,455 L523,447 Z" fill="#c0cfcb" stroke="#0e1e1e" stroke-width="1.45" stroke-linejoin="round" />
<path d="M532.00,446.50 C533.50,444.75 537.17,439.17 541.00,436.00 C544.83,432.83 550.17,429.47 555.00,427.50 C559.83,425.53 565.00,424.53 570.00,424.20 C575.00,423.87 580.00,424.53 585.00,425.50 C590.00,426.47 595.50,428.08 600.00,430.00 C604.50,431.92 610.00,435.83 612.00,437.00" fill="none" stroke="#0e1e1e" stroke-width="1.9" stroke-linecap="round" stroke-linejoin="round"/>
<path d="M524.60,430.40 L532.60,448.80 L528.00,452.80 L526.40,458.50 L521.50,452.00 L524.00,441.00 Z" fill="#89abaa" stroke="#0e1e1e" stroke-width="1.2" stroke-linejoin="round" />
<path d="M524.60,430.40 L527.30,430.00 L534.60,442.80 L532.60,448.80 Z" fill="#9db9b7" stroke="#0e1e1e" stroke-width="1.0" stroke-linejoin="round" />
<path d="M609.00,442.00 L617.00,440.00 L621.80,444.00 L621.80,450.50 L609.00,451.30 Z" fill="#c0cfcb" stroke="#0e1e1e" stroke-width="1.2" stroke-linejoin="round" />
<ellipse cx="614.00" cy="444.60" rx="2.2" ry="2.0" fill="#ffffff" stroke="#0e1e1e" stroke-width="1.1" />
<ellipse cx="602.00" cy="436.60" rx="1.5" ry="1.4" fill="#ffffff" stroke="#0e1e1e" stroke-width="1.1" />
<path d="M568.00,462.00 C568.42,460.83 570.00,459.17 571.00,459.00 C572.00,458.83 573.50,459.92 574.00,461.00 C574.50,462.08 574.42,464.42 574.00,465.50 C573.58,466.58 572.42,467.42 571.50,467.50 C570.58,467.58 569.08,466.92 568.50,466.00 C567.92,465.08 567.58,463.17 568.00,462.00 Z" fill="#c0cfcb" stroke="#0e1e1e" stroke-width="1.3" stroke-linejoin="round" />
<path d="M569,460.5 L567.5,456.8" fill="none" stroke="#0e1e1e" stroke-width="1.4" stroke-linecap="round" stroke-linejoin="round"/>
<path d="M540.2,473 Q540,469.8 542.2,470.3 Q543.2,471 543.2,474 L543.2,513 Q543,517 539.5,516.5" fill="none" stroke="#0e1e1e" stroke-width="1.4" stroke-linecap="round" stroke-linejoin="round"/>
<rect x="537.6" y="482.3" width="6" height="21.5" rx="1" fill="#141414"/>
<path d="M602.8,467.5 Q603,463.8 600.5,464.3 Q598.5,465 599,468 L599,472" fill="none" stroke="#0e1e1e" stroke-width="1.4" stroke-linecap="round" stroke-linejoin="round"/>
<rect x="597.6" y="471.8" width="7.4" height="25" rx="1.2" fill="#141414"/>
<path d="M600.2,497 L599.5,504.5 Q599,506 601,505.5" fill="none" stroke="#0e1e1e" stroke-width="1.4" stroke-linecap="round" stroke-linejoin="round"/>
<line x1="601.2" y1="473" x2="601.2" y2="496" stroke="#555" stroke-width="0.8"/>
<path d="M521.30,523.80 C522.42,526.17 524.88,533.63 528.00,538.00 C531.12,542.37 535.50,546.50 540.00,550.00 C544.50,553.50 550.00,556.75 555.00,559.00 C560.00,561.25 565.00,562.75 570.00,563.50 C575.00,564.25 580.00,564.75 585.00,563.50 C590.00,562.25 595.25,558.75 600.00,556.00 C604.75,553.25 610.12,550.50 613.50,547.00 C616.88,543.50 619.17,537.00 620.30,535.00 L619.5,530.5 C618.50,531.50 616.75,534.00 613.50,536.50 C610.25,539.00 604.75,543.00 600.00,545.50 C595.25,548.00 590.00,550.50 585.00,551.50 C580.00,552.50 575.00,552.25 570.00,551.50 C565.00,550.75 560.00,549.25 555.00,547.00 C550.00,544.75 544.75,541.50 540.00,538.00 C535.25,534.50 528.75,528.00 526.50,526.00 Z" fill="#89abaa" stroke="#0e1e1e" stroke-width="1.45" stroke-linejoin="round" />
<path d="M522.00,513.30 C523.75,513.17 529.75,512.00 532.50,512.50 C535.25,513.00 536.00,514.30 538.50,516.30 C541.00,518.30 543.50,522.13 547.50,524.50 C551.50,526.87 557.50,529.50 562.50,530.50 C567.50,531.50 572.50,531.25 577.50,530.50 C582.50,529.75 588.25,527.75 592.50,526.00 C596.75,524.25 601.12,523.00 603.00,520.00 C604.88,517.00 603.67,510.00 603.80,508.00 L604.5,507.3 L616.5,508 L621,511.8 L621,521.5 L619.5,530.5 C618.50,531.50 616.75,534.00 613.50,536.50 C610.25,539.00 604.75,543.00 600.00,545.50 C595.25,548.00 590.00,550.50 585.00,551.50 C580.00,552.50 575.00,552.25 570.00,551.50 C565.00,550.75 560.00,549.25 555.00,547.00 C550.00,544.75 544.75,541.50 540.00,538.00 C535.25,534.50 529.58,529.33 526.50,526.00 C523.42,522.67 522.33,519.33 521.50,518.00 Z" fill="#c0cfcb" stroke="#0e1e1e" stroke-width="1.45" stroke-linejoin="round" />
<path d="M524.00,520.00 C526.33,521.83 532.83,527.67 538.00,531.00 C543.17,534.33 549.67,537.83 555.00,540.00 C560.33,542.17 565.00,543.33 570.00,544.00 C575.00,544.67 580.00,545.00 585.00,544.00 C590.00,543.00 595.50,540.50 600.00,538.00 C604.50,535.50 608.83,531.67 612.00,529.00 C615.17,526.33 617.83,523.17 619.00,522.00" fill="none" stroke="#0e1e1e" stroke-width="1.1" stroke-linecap="round" stroke-linejoin="round"/>
<path d="M530.00,518.00 C531.83,518.67 537.67,520.00 541.00,522.00 C544.33,524.00 546.00,527.75 550.00,530.00 C554.00,532.25 560.33,534.58 565.00,535.50 C569.67,536.42 573.50,536.17 578.00,535.50 C582.50,534.83 587.83,533.25 592.00,531.50 C596.17,529.75 600.00,527.08 603.00,525.00 C606.00,522.92 608.83,520.00 610.00,519.00" fill="none" stroke="#0e1e1e" stroke-width="1.0" stroke-linecap="round" stroke-linejoin="round"/>
<path d="M604.50,507.30 L616.50,508.00 L621.00,511.80 L609.00,512.50 Z" fill="#9db9b7" stroke="#0e1e1e" stroke-width="1.1" stroke-linejoin="round" />
<ellipse cx="540.80" cy="526.80" rx="2.1" ry="1.9" fill="#ffffff" stroke="#0e1e1e" stroke-width="1.1" />
<ellipse cx="546.00" cy="537.30" rx="2.1" ry="1.9" fill="#ffffff" stroke="#0e1e1e" stroke-width="1.1" />
<ellipse cx="591.80" cy="539.50" rx="2.1" ry="1.9" fill="#ffffff" stroke="#0e1e1e" stroke-width="1.1" />
<ellipse cx="597.50" cy="533.50" rx="2.1" ry="1.9" fill="#ffffff" stroke="#0e1e1e" stroke-width="1.1" />
<ellipse cx="613.50" cy="521.50" rx="2.1" ry="1.9" fill="#ffffff" stroke="#0e1e1e" stroke-width="1.1" />
<path d="M553.5,546.3 L573,539.5" fill="none" stroke="#0e1e1e" stroke-width="1.1" stroke-linecap="round" stroke-linejoin="round"/>
<path d="M554.5,548.5 L574,541.5" fill="none" stroke="#0e1e1e" stroke-width="0.9" stroke-linecap="round" stroke-linejoin="round"/>
<g font-family="Liberation Sans, sans-serif" font-size="16.4" fill="#1c1c1c">
<text transform="translate(73.0,133.3) scale(0.9,1)">01</text>
<text transform="translate(104.0,193.7) scale(0.9,1)">64</text>
<text transform="translate(119.8,220.2) scale(0.9,1)">62</text>
<text transform="translate(199.0,370.3) scale(0.9,1)">61</text>
<text transform="translate(211.5,398.3) scale(0.9,1)">66</text>
<text transform="translate(221.6,417.8) scale(0.9,1)">29</text>
<text transform="translate(235.9,441.8) scale(0.9,1)">33</text>
<text transform="translate(253.0,478.3) scale(0.9,1)">95</text>
<text transform="translate(273.6,512.7) scale(0.9,1)">91</text>
<text transform="translate(296.0,556.2) scale(0.9,1)">86</text>
<text transform="translate(349.3,660.6) scale(0.9,1)">84</text>
<text transform="translate(376.4,716.7) scale(0.9,1)">93</text>
<text transform="translate(392.3,740.6) scale(0.9,1)">94</text>
<text transform="translate(401.7,758.9) scale(0.9,1)">96</text>
<text transform="translate(421.2,794.7) scale(0.9,1)">31</text>
<text transform="translate(502.0,133.3) scale(0.9,1)">46</text>
<text transform="translate(515.0,158.1) scale(0.9,1)">2</text>
<text transform="translate(531.0,190.3) scale(0.9,1)">60</text>
<text transform="translate(549.0,224.3) scale(0.9,1)">54</text>
<text transform="translate(560.0,246.1) scale(0.9,1)">53</text>
<text transform="translate(580.5,285.3) scale(0.9,1)">59</text>
<text transform="translate(600.5,324.3) scale(0.9,1)">52</text>
<text transform="translate(611.0,344.3) scale(0.9,1)">37</text>
<text transform="translate(637.4,389.3) scale(0.9,1)">43/44</text>
<text transform="translate(656.0,429.8) scale(0.9,1)">74</text>
<text transform="translate(675.5,469.3) scale(0.9,1)">63</text>
<text transform="translate(685.5,485.3) scale(0.9,1)">69</text>
<text transform="translate(696.5,504.8) scale(0.9,1)">68</text>
<text transform="translate(709.4,532.8) scale(0.9,1)">72</text>
</g>
</svg>
</body></html>
